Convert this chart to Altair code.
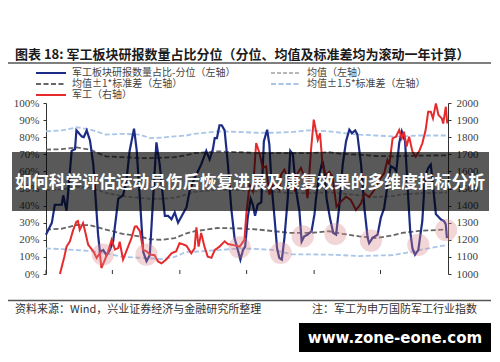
import altair as alt
import pandas as pd

BASE = pd.Timestamp("2019-01-01")

# ---- series definitions ----
series_names = ["军工板块研报数量占比-分位（左轴）", "均值（左轴）", "均值±1*标准差（左轴）",
                "均值±1.5*标准差（左轴）", "军工（右轴）"]
series_colors = ["#1c2b86", "#b8b8b8", "#666666", "#a9c5e8", "#e62a2c"]
series_dashes = [[1, 0], [4, 2], [5, 2.5], [5, 2.5], [1, 0]]

# ---- percentile (left axis), days since 2019-01-01 ----
blue_days = [0, 16, 24, 43, 47, 56, 70, 79, 83, 97, 103, 111, 120, 129, 142, 147, 156, 165, 174, 183,
             197, 210, 219, 228, 240, 247, 256, 265, 274, 283, 292, 301, 310, 324, 333, 342, 351, 360, 369, 383,
             392, 405, 423, 437, 446, 455, 460, 466, 473, 479, 487, 496, 505, 514, 523, 530, 537, 543, 550, 558,
             564, 570, 577, 587, 594, 603, 609, 615, 623, 630, 636, 643, 650, 659, 666, 673, 682, 691, 697, 704,
             713, 724, 732, 736, 745, 754, 759, 765, 774, 783, 791, 800, 809, 818, 827, 834, 843, 849, 859, 868,
             877, 881, 890, 904, 913, 922, 931, 940, 949, 955, 963, 970, 979, 985, 993, 999, 1006, 1015, 1026, 1033,
             1042, 1049, 1055, 1063, 1076, 1085, 1090, 1093]
blue_pct = [23, 30, 40.5, 40.5, 46, 37, 72, 73, 84, 80.5, 80, 84, 78, 64, 23, 13, 14, 11, 14, 19,
            44, 46, 54, 72, 85, 73, 44, 13, 7.5, 11, 44, 77, 64, 34, 34, 32, 36, 30, 33.5, 39,
            49, 56, 64, 72, 67, 73, 79.5, 79.5, 87, 87, 84, 64, 38.6, 21, 14, 8.4, 14, 16, 33, 44,
            40.5, 34, 40.5, 42, 77.6, 84.4, 75.6, 52, 33, 15, 9.4, 8.4, 21, 44, 72, 70, 48.5, 36.6, 19, 22,
            23, 25, 35, 44, 58, 66, 60, 44, 33, 24, 23, 40.5, 64, 77.6, 84.4, 82.4, 84, 81.5, 64, 38.6,
            21, 18, 21, 23, 33, 38.6, 52, 63, 62, 60, 76.6, 83.4, 77.6, 54, 25, 15, 11.3, 14, 31, 56,
            62, 64, 52, 35, 32, 31, 29, 21]

# ---- rolling bands (left axis) ----
band_days = [0, 44, 84, 120, 163, 209, 256, 283, 318, 351, 383, 405, 468, 533, 577, 623, 669, 718,
             772, 808, 854, 900, 944, 971, 1017, 1093]
band_up15 = [83.4, 84, 85.8, 84.5, 81.5, 82, 81.5, 79.5, 79.8, 80.5, 81, 82, 83.4, 83, 82.6, 82.6, 83, 84,
             83.4, 82.5, 81.5, 81, 80.5, 80.5, 81, 81]
band_up1 = [72.7, 73, 74, 72.7, 68.8, 68.3, 67.8, 67.8, 68, 68.3, 69.5, 70.7, 71.7, 71.2, 70.7, 70.7, 70.7, 70.7,
            71.2, 70.2, 69.8, 69, 68.8, 69, 69.2, 69.4]
band_mean = [49, 49.5, 51, 50.5, 47.5, 45.5, 44.5, 44, 44, 44.5, 46.5, 48, 49.3, 49, 48.3, 48, 47.3, 47.3,
             47.8, 47, 46, 45, 45.5, 46.5, 47.2, 47.7]
band_lo1 = [26, 26.5, 28.7, 28.5, 26, 23.5, 22, 20.3, 20, 21, 23.8, 25, 26.9, 26.6, 26, 25, 24, 24,
            25, 23.5, 22, 21, 22.5, 24, 25.2, 26]
band_lo15 = [15, 14.5, 14, 13.5, 12, 10, 9.5, 9.2, 8.7, 10, 13, 13, 14, 15, 14.6, 14, 11.5, 11.5,
             11.3, 11, 10.5, 10.8, 11, 12, 14, 17]

# ---- 军工 index (right axis) ----
red_days = [38, 50, 56, 65, 74, 83, 87, 92, 101, 106, 115, 129, 138, 147, 151, 160, 169, 179, 188, 197,
            201, 210, 219, 233, 242, 247, 256, 265, 274, 283, 296, 305, 315, 328, 342, 355, 364, 372, 383, 396,
            405, 410, 416, 423, 432, 441, 451, 460, 473, 487, 496, 509, 528, 541, 546, 555, 564, 573, 582, 591,
            600, 609, 618, 627, 636, 641, 650, 659, 668, 677, 686, 695, 704, 713, 723, 730, 741, 747, 754, 763,
            772, 781, 792, 804, 818, 831, 845, 859, 868, 881, 895, 908, 922, 931, 936, 945, 954, 963, 970, 976,
            983, 990, 999, 1008, 1017, 1026, 1035, 1042, 1049, 1055, 1063, 1070, 1079, 1083, 1090, 1094]
red_val = [1000, 1101, 1160, 1190, 1257, 1306, 1310, 1259, 1298, 1255, 1171, 1133, 1094, 1123, 1035, 1080, 1130, 1200, 1143, 1152,
           1189, 1084, 1133, 1210, 1277, 1279, 1250, 1140, 1133, 1114, 1110, 1074, 1062, 1085, 1121, 1133, 1180, 1175, 1165, 1121,
           1150, 1273, 1160, 1240, 1160, 1101, 1095, 1140, 1160, 1191, 1175, 1170, 1160, 1200, 1347, 1522, 1483, 1766, 1707, 1620,
           1630, 1464, 1522, 1520, 1493, 1581, 1610, 1561, 1542, 1495, 1591, 1620, 1571, 1444, 1737, 1903, 1784, 1823, 1637, 1579,
           1598, 1570, 1394, 1423, 1452, 1433, 1374, 1413, 1471, 1450, 1491, 1550, 1589, 1667, 1640, 1793, 1803, 1842, 1793, 1832,
           1745, 1803, 1716, 1686, 1716, 1764, 1842, 1949, 1949, 1910, 1998, 1930, 1910, 1880, 1978, 1880]

# ---- highlight circles (left axis) ----
circle_days = [155, 274, 528, 640, 700, 789, 886, 1015, 1091]
circle_pct = [11.4, 11.3, 15.6, 12.3, 22, 23.4, 19.5, 17, 25.7]

tick_years = [2019, 2019, 2020, 2020, 2021, 2021]
tick_months = [1, 7, 1, 7, 1, 7]

title_text = "图表 18:  军工板块研报数量占比分位（分位、均值及标准差均为滚动一年计算）"
banner_text = "如何科学评估运动员伤后恢复进展及康复效果的多维度指标分析"
source_text = "资料来源：Wind，兴业证券经济与金融研究所整理"
note_text = "注：军工为申万国防军工行业指数"
wm_text = "www.zone-eone.com"


def to_dates(days):
    return [BASE + pd.Timedelta(days=int(d)) for d in days]


blue_df = pd.DataFrame({"date": to_dates(blue_days), "value": blue_pct,
                        "series": series_names[0], "line": "pct"})
band_parts = []
for vals, idx, lid in [(band_mean, 1, "mean"), (band_up1, 2, "up1"), (band_lo1, 2, "lo1"),
                       (band_up15, 3, "up15"), (band_lo15, 3, "lo15")]:
    band_parts.append(pd.DataFrame({"date": to_dates(band_days), "value": vals,
                                    "series": series_names[idx], "line": lid}))
band_df = pd.concat(band_parts, ignore_index=True)
red_df = pd.DataFrame({"date": to_dates(red_days), "value": red_val, "series": series_names[4]})
circ_df = pd.DataFrame({"date": to_dates(circle_days), "value": circle_pct})
tick_df = pd.DataFrame({"date": [pd.Timestamp(year=y, month=m, day=1) for y, m in zip(tick_years, tick_months)]})

SERIF = "Liberation Serif"
CJK = "Noto Sans CJK SC"

x_enc = alt.X("date:T", title=None,
              scale=alt.Scale(domain=[alt.DateTime(year=2019, month=1, date=1),
                                      alt.DateTime(year=2022, month=1, date=1)]),
              axis=alt.Axis(values=[alt.DateTime(year=y, month=m, date=1) for y, m in zip(tick_years, tick_months)],
                            format="%Y-%m", grid=False, ticks=False, labelPadding=7,
                            domainColor="#333333", labelFont=SERIF, labelFontSize=11,
                            labelColor="#404040"))
x_plain = alt.X("date:T", axis=None)

left_axis = alt.Axis(orient="left", values=list(range(0, 101, 10)), labelExpr="datum.value + '%'",
                     title=None, grid=False, domainColor="#333333", tickColor="#333333", tickSize=3,
                     labelFont=SERIF, labelFontSize=11, labelColor="#404040", labelPadding=4)
y_left = alt.Y("value:Q", scale=alt.Scale(domain=[0, 100], nice=False), axis=left_axis)

# wide horizontal legend sample: a path in unit coordinates, scaled by sqrt(symbolSize)/2
leg = alt.Legend(title=None, orient="none", legendX=-11, legendY=-36, columns=2, direction="horizontal",
                 symbolType="M-1,0H5", symbolSize=100, symbolStrokeWidth=2,
                 labelFont=CJK, labelFontSize=10, labelColor="#444444", labelOffset=25, labelLimit=400,
                 rowPadding=-1.3, columnPadding=31, padding=0)
color_enc = alt.Color("series:N", scale=alt.Scale(domain=series_names, range=series_colors),
                      sort=series_names, legend=leg)
dash_enc = alt.StrokeDash("series:N", scale=alt.Scale(domain=series_names, range=series_dashes),
                          sort=series_names, legend=leg)

bands = alt.Chart(band_df).mark_line(strokeWidth=1.8).encode(
    x=x_enc, y=y_left, color=color_enc, strokeDash=dash_enc, detail="line:N")
blue = alt.Chart(blue_df).mark_line(strokeWidth=2.2).encode(
    x=x_enc, y=y_left, color=color_enc, strokeDash=dash_enc, detail="line:N")
left_layer = alt.layer(bands, blue)

red = alt.Chart(red_df).mark_line(strokeWidth=2).encode(
    x=x_plain,
    y=alt.Y("value:Q", scale=alt.Scale(domain=[1000, 2000], nice=False),
            axis=alt.Axis(orient="right", values=list(range(1000, 2001, 100)), format="d", title=None,
                          grid=False, domainColor="#333333", tickColor="#333333", tickSize=3,
                          labelFont=SERIF, labelFontSize=11, labelColor="#404040", labelPadding=5)),
    color=color_enc, strokeDash=dash_enc)

circles = alt.Chart(circ_df).mark_circle(size=490, color="#d9888b", opacity=0.35).encode(
    x=x_plain, y=alt.Y("value:Q", scale=alt.Scale(domain=[0, 100], nice=False), axis=None))

xticks = alt.Chart(tick_df).mark_rule(color="#333333", strokeWidth=1).encode(
    x=x_plain, y=alt.value(167), y2=alt.value(171))


def one(text):
    return pd.DataFrame({"t": [text]})


def txt(text, x, y, size, color, weight="normal", align="left", font=CJK):
    return alt.Chart(one(text)).mark_text(align=align, baseline="middle", fontSize=size, color=color,
                                          fontWeight=weight, font=font).encode(
        x=alt.value(x), y=alt.value(y), text="t:N")


def rect(x, x2, y, y2, color, opacity=1.0):
    return alt.Chart(one("")).mark_rect(color=color, opacity=opacity).encode(
        x=alt.value(x), x2=alt.value(x2), y=alt.value(y), y2=alt.value(y2))


def hrule(x, x2, y):
    return alt.Chart(one("")).mark_rule(color="#555555", strokeWidth=1.5).encode(
        x=alt.value(x), x2=alt.value(x2), y=alt.value(y))


title = txt(title_text, -31, -48, 13, "#1a1a1a", weight="bold")
top_rule = hrule(-38, 445, -40)
bottom_rule = hrule(-38, 445, 197.5)
src = txt(source_text, -31, 207, 11, "#333333")
note = txt(note_text, 266, 207, 11, "#333333")
banner = rect(-34, 443, 49, 108, "#000000", 0.65)
banner_t = txt(banner_text, 204, 80, 16.8, "#ffffff", weight="bold", align="center")
wm_box = rect(253, 445, 220, 249, "#000000")
wm_t = txt(wm_text, 349, 234.5, 15, "#ffffff", weight="bold", align="center", font="DejaVu Sans")

chart = alt.layer(
    left_layer, red, circles, xticks, title, top_rule, bottom_rule, src, note,
    banner, banner_t, wm_box, wm_t
).resolve_scale(y="independent").properties(
    width=402, height=171,
    padding={"left": 38, "top": 95, "right": 44, "bottom": 80},
    autosize=alt.AutoSizeParams(type="none"),
    background="white"
).configure_view(stroke=None)

chart.save("out.html", embed_options={"renderer": "svg", "actions": False})
